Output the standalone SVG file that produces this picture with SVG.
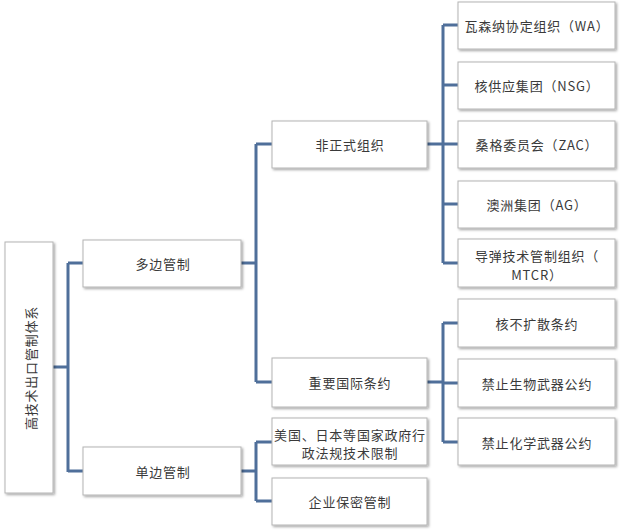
<svg xmlns="http://www.w3.org/2000/svg" width="640" height="531" viewBox="0 0 640 531">
<defs>
<filter id="sh" x="-10%" y="-10%" width="130%" height="130%">
<feDropShadow dx="1.5" dy="1.5" stdDeviation="1" flood-color="#000" flood-opacity="0.35"/>
</filter>
<style>
.box{fill:#fff;stroke:#b4b4b4;stroke-width:1;filter:url(#sh);}
.t{font-family:"Noto Sans CJK SC","Liberation Sans",sans-serif;font-size:13px;letter-spacing:0.8px;fill:#3a3a3a;text-anchor:middle;dominant-baseline:central;}
.c{fill:none;stroke:#4f6f9a;stroke-width:3;}
</style>
</defs>
<rect width="640" height="531" fill="#fff"/>
<g id="connectors">
<path class="c" d="M53 367 H68 M68 263 V472 M68 263 H83 M68 471 H83"/>
<path class="c" d="M241 263 H256 M256 144 V382 M256 144 H272 M256 382 H272"/>
<path class="c" d="M241 471 H256 M256 442 V501 M256 442 H272 M256 501 H272"/>
<path class="c" d="M427 144 H443 M443 25 V263 M443 25 H458 M443 85 H458 M443 144 H458 M443 204 H458 M443 263 H458"/>
<path class="c" d="M427 382 H443 M443 323 V442 M443 323 H458 M443 383 H458 M443 442 H458"/>
</g>
<g id="root"><rect class="box" x="5" y="242" width="48" height="251"/><text class="t" transform="translate(30 368) rotate(-90)">高技术出口管制体系</text></g>
<g id="multi"><rect class="box" x="83" y="240" width="158" height="47"/><text class="t" x="163" y="263">多边管制</text></g>
<g id="uni"><rect class="box" x="83" y="447" width="158" height="48"/><text class="t" x="163" y="471">单边管制</text></g>
<g id="informal"><rect class="box" x="272" y="121" width="155" height="47"/><text class="t" x="350" y="144">非正式组织</text></g>
<g id="treaty"><rect class="box" x="272" y="358" width="155" height="49"/><text class="t" x="350" y="382">重要国际条约</text></g>
<g id="gov"><rect class="box" x="272" y="418" width="155" height="47"/><text class="t" x="350" y="434">美国、日本等国家政府行</text><text class="t" x="350" y="452">政法规技术限制</text></g>
<g id="corp"><rect class="box" x="272" y="478" width="155" height="47"/><text class="t" x="350" y="501">企业保密管制</text></g>
<g id="wa"><rect class="box" x="458" y="2" width="157" height="47"/><text class="t" x="537" y="25">瓦森纳协定组织（WA）</text></g>
<g id="nsg"><rect class="box" x="458" y="62" width="157" height="47"/><text class="t" x="537" y="85">核供应集团（NSG）</text></g>
<g id="zac"><rect class="box" x="458" y="121" width="157" height="47"/><text class="t" x="537" y="144">桑格委员会（ZAC）</text></g>
<g id="ag"><rect class="box" x="458" y="181" width="157" height="47"/><text class="t" x="537" y="204">澳洲集团（AG）</text></g>
<g id="mtcr"><rect class="box" x="458" y="239" width="157" height="48"/><text class="t" x="537" y="255">导弹技术管制组织（</text><text class="t" x="537" y="274">MTCR）</text></g>
<g id="npt"><rect class="box" x="458" y="299" width="157" height="48"/><text class="t" x="537" y="323">核不扩散条约</text></g>
<g id="bwc"><rect class="box" x="458" y="359" width="157" height="48"/><text class="t" x="537" y="383">禁止生物武器公约</text></g>
<g id="cwc"><rect class="box" x="458" y="418" width="157" height="47"/><text class="t" x="537" y="442">禁止化学武器公约</text></g>
</svg>
